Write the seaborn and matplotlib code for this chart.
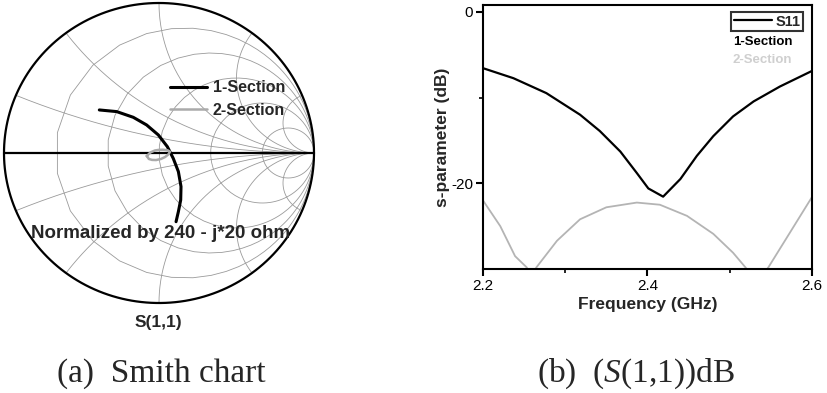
import numpy as np
import pandas as pd
import matplotlib
matplotlib.use("Agg")
import matplotlib.pyplot as plt
import seaborn as sns

# Smith chart grid values
r_grid = [0.2, 0.5, 1, 2, 5]
x_grid = [0.2, 0.5, 1, 2, 5, -0.2, -0.5, -1, -2, -5]

# S(1,1) traces on the Smith chart (reflection coefficient, re / im)
sec1_re = [-0.385, -0.273, -0.166, -0.08, -0.004, 0.054, 0.092, 0.125, 0.142, 0.14, 0.125, 0.11]
sec1_im = [0.287, 0.276, 0.238, 0.187, 0.12, 0.042, -0.036, -0.124, -0.224, -0.313, -0.391, -0.458]
sec2_re = [-0.079, -0.055, -0.026, 0.0, 0.026, 0.055, 0.071, 0.06, 0.039, 0.012, -0.019, -0.045, -0.065, -0.079]
sec2_im = [-0.02, 0.004, 0.017, 0.021, 0.022, 0.018, 0.009, -0.01, -0.027, -0.04, -0.047, -0.046, -0.04, -0.02]

# S11 in dB vs frequency
freq1 = [2.2, 2.237, 2.277, 2.318, 2.342, 2.367, 2.387, 2.401, 2.419, 2.44, 2.46, 2.48,
         2.504, 2.529, 2.561, 2.6]
s11_1 = [-6.57, -7.74, -9.48, -12.0, -13.9, -16.3, -18.8, -20.6, -21.56, -19.5, -16.8,
         -14.5, -12.2, -10.45, -8.71, -6.89]
freq2 = [2.2, 2.221, 2.239, 2.253, 2.259, 2.265, 2.29, 2.318, 2.35, 2.387, 2.415, 2.448,
         2.48, 2.504, 2.519, 2.533, 2.547, 2.569, 2.6]
s11_2 = [-22.0, -25.0, -28.5, -29.8, -30.8, -29.8, -26.7, -24.2, -22.8, -22.25, -22.5,
         -23.8, -25.9, -28.1, -29.8, -31.5, -29.8, -26.4, -21.6]

W, H = 827, 393
sns.set_style("ticks")
plt.rcParams["font.family"] = ["Liberation Sans", "DejaVu Sans"]
plt.rcParams["mathtext.fontset"] = "custom"
plt.rcParams["mathtext.rm"] = "Liberation Serif"
plt.rcParams["mathtext.it"] = "Liberation Serif:italic"
fig = plt.figure(figsize=(W / 100, H / 100), dpi=100)

# ---------------- (a) Smith chart ----------------
cx, cy, sx, sy = 159, 153, 155, 150
ax1 = fig.add_axes([0, (H - 310) / H, 320 / W, 310 / H])
ax1.set_xlim((0 - cx) / sx, (320 - cx) / sx)
ax1.set_ylim((cy - 310) / sy, cy / sy)

t = np.linspace(-np.pi / 2 + 1e-4, np.pi / 2 - 1e-4, 800)
for r in r_grid:
    z = r + 1j * np.tan(t) * 50
    g = (z - 1) / (z + 1)
    ax1.plot(g.real, g.imag, color="#9a9a9a", lw=0.6)
for xv in x_grid:
    rr = np.concatenate([np.linspace(0, 5, 400), np.logspace(0.7, 4, 400)])
    g = (rr + 1j * xv - 1) / (rr + 1j * xv + 1)
    ax1.plot(g.real, g.imag, color="#9a9a9a", lw=0.6)
th = np.linspace(0, 2 * np.pi, 400)
ax1.plot(np.cos(th), np.sin(th), color="black", lw=1.6)
ax1.plot([-1, 1], [0, 0], color="black", lw=1.6)

df1 = pd.DataFrame({"re": sec1_re, "im": sec1_im})
df2 = pd.DataFrame({"re": sec2_re, "im": sec2_im})
sns.lineplot(data=df1, x="re", y="im", sort=False, estimator=None, color="black",
             lw=2.2, ax=ax1, label="1-Section")
sns.lineplot(data=df2, x="re", y="im", sort=False, estimator=None, color="#aaaaaa",
             lw=1.8, ax=ax1, label="2-Section")
ax1.legend(loc="upper left", bbox_to_anchor=(156 / 320, 1 - 66 / 310), frameon=False,
           handlelength=2.3, handletextpad=0.35, labelspacing=0.45,
           prop={"weight": "bold", "size": 11.5})
ax1.axis("off")

fig.text(161 / W, 1 - 233 / H, "Normalized by 240 - j*20 ohm", ha="center", va="center",
         fontsize=13.5, fontweight="bold")
fig.text(158 / W, 1 - 322 / H, "S(1,1)", ha="center", va="center", fontsize=12.5,
         fontweight="bold")

# ---------------- (b) S11 dB ----------------
ax2 = fig.add_axes([483 / W, (H - 269) / H, 329 / W, 264 / H])
sdf1 = pd.DataFrame({"f": freq1, "db": s11_1})
sdf2 = pd.DataFrame({"f": freq2, "db": s11_2})
sns.lineplot(data=sdf1, x="f", y="db", color="black", lw=1.6, ax=ax2, label="S11")
sns.lineplot(data=sdf2, x="f", y="db", color="#b4b4b4", lw=1.3, ax=ax2, label="_nolegend_")
ax2.set_xlim(2.2, 2.6)
ax2.set_ylim(-30, 0.8)
ax2.set_xticks([2.2, 2.4, 2.6])
ax2.set_xticks([2.3, 2.5], minor=True)
ax2.set_yticks([0, -20])
ax2.set_yticks([-10], minor=True)
ax2.set_yticklabels(["0", "-20"])
ax2.set_xticklabels(["2.2", "2.4", "2.6"])
for s in ax2.spines.values():
    s.set_visible(True)
    s.set_linewidth(1.5)
    s.set_color("black")
ax2.tick_params(which="major", direction="out", length=5, width=1.5, labelsize=11,
                pad=2, colors="black")
ax2.tick_params(which="minor", direction="out", length=3, width=1.2, colors="black")
ax2.set_xlabel("Frequency (GHz)", fontsize=12.5, fontweight="bold", labelpad=3)
ax2.set_ylabel("s-parameter (dB)", fontsize=12.5, fontweight="bold", labelpad=1)
leg = ax2.legend(loc="upper right", bbox_to_anchor=(0.973, 0.972), frameon=True,
                 fancybox=False, handlelength=2.6, handletextpad=0.3, borderpad=0.15,
                 borderaxespad=0, prop={"weight": "bold", "size": 10.5})
leg.get_frame().set_edgecolor("black")
leg.get_frame().set_linewidth(1.5)
ax2.text(0.85, 0.86, "1-Section", transform=ax2.transAxes, ha="center", va="center",
         fontsize=9.5, fontweight="bold", color="black")
ax2.text(0.85, 0.79, "2-Section", transform=ax2.transAxes, ha="center", va="center",
         fontsize=9.5, fontweight="bold", color="#cfcfcf")

# captions
fig.text(57 / W, 1 - 374 / H, "(a)  Smith chart", ha="left", va="center", fontsize=24,
         family="Liberation Serif")
fig.text(537 / W, 1 - 374 / H, r"(b)  ($\mathit{S}$(1,1))dB", ha="left", va="center",
         fontsize=24, family="Liberation Serif")

fig.savefig("out.png", dpi=100)
